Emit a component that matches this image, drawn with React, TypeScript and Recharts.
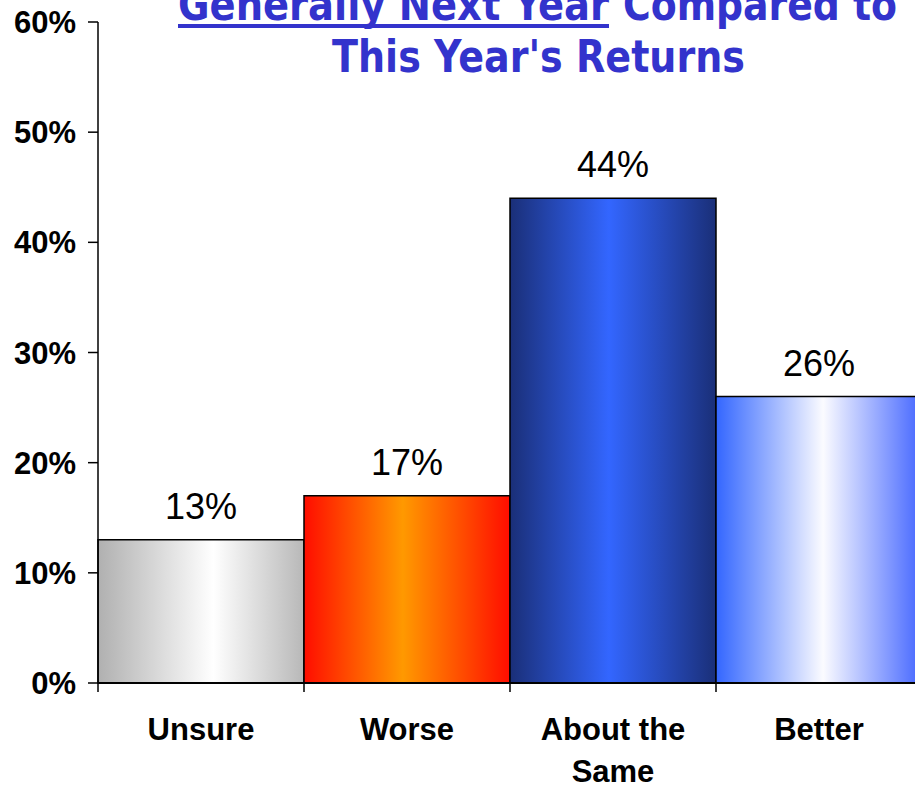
import React from 'react';
import { BarChart, Bar, XAxis, YAxis, Cell, LabelList } from 'recharts';

const categories = ['Unsure', 'Worse', 'About the Same', 'Better'];
const shares = [0.13, 0.17, 0.44, 0.26];
const yTicks = [0, 0.1, 0.2, 0.3, 0.4, 0.5, 0.6];
const categoryLines: string[][] = [['Unsure'], ['Worse'], ['About the', 'Same'], ['Better']];
const titleUnderlined = 'Generally Next Year';
const titleRest = 'Compared to';
const titleLine2 = "This Year's Returns";

const gradients: { id: string; stops: [string, string][] }[] = [
  { id: 'gUnsure', stops: [['0%', '#b0b0b0'], ['56%', '#ffffff'], ['100%', '#b8b8b8']] },
  { id: 'gWorse', stops: [['0%', '#ff0d00'], ['48%', '#ff9900'], ['100%', '#ff0d00']] },
  { id: 'gSame', stops: [['0%', '#1a2f78'], ['48%', '#3366ff'], ['100%', '#1a2f78']] },
  { id: 'gBetter', stops: [['0%', '#3366ff'], ['52%', '#fbfbff'], ['100%', '#4466ff']] },
];

const data = categories.map((c, i) => ({ category: c, value: shares[i] }));

const pct = (v: number) => `${Math.round(v * 100)}%`;

const CategoryTick = (props: any) => {
  const { x, y, index, visibleTicksCount, width, payload } = props;
  const band = width / visibleTicksCount;
  const lines = categoryLines[index] ?? [payload.value];
  return (
    <g>
      <line x1={x - band / 2} x2={x - band / 2} y1={y} y2={y + 9} stroke="#000" strokeWidth={1.5} />
      {index === visibleTicksCount - 1 && (
        <line x1={x + band / 2} x2={x + band / 2} y1={y} y2={y + 9} stroke="#000" strokeWidth={1.5} />
      )}
      <text
        x={x}
        y={y + 57}
        textAnchor="middle"
        fontFamily="'Liberation Sans', Arial, sans-serif"
        fontWeight="bold"
        fontSize={31}
        fill="#000"
      >
        {lines.map((l, k) => (
          <tspan key={k} x={x} dy={k === 0 ? 0 : 42}>
            {l}
          </tspan>
        ))}
      </text>
    </g>
  );
};

export default function App() {
  return (
    <div
      style={{
        position: 'fixed',
        top: 0,
        left: 0,
        width: 915,
        height: 785,
        overflow: 'hidden',
        background: '#fff',
      }}
    >
      <div style={{ position: 'absolute', top: -40, left: 0 }}>
        <BarChart
          width={930}
          height={830}
          data={data}
          margin={{ top: 62, right: 8, bottom: 7, left: 0 }}
          barCategoryGap={0}
        >
          <defs>
            {gradients.map((g) => (
              <linearGradient key={g.id} id={g.id} x1="0" y1="0" x2="1" y2="0">
                {g.stops.map(([o, c], k) => (
                  <stop key={k} offset={o} stopColor={c} />
                ))}
              </linearGradient>
            ))}
          </defs>
          <YAxis
            width={98}
            domain={[0, 0.6]}
            ticks={yTicks}
            interval={0}
            tickFormatter={pct}
            tickSize={10}
            tickMargin={12}
            axisLine={{ stroke: '#000', strokeWidth: 1.5 }}
            tickLine={{ stroke: '#000', strokeWidth: 1.5 }}
            tick={{
              fill: '#000',
              fontSize: 31,
              fontWeight: 'bold',
              fontFamily: "'Liberation Sans', Arial, sans-serif",
            }}
          />
          <XAxis
            dataKey="category"
            height={100}
            interval={0}
            tickSize={0}
            tickMargin={0}
            tickLine={false}
            axisLine={{ stroke: '#000', strokeWidth: 2 }}
            tick={<CategoryTick />}
          />
          <Bar dataKey="value" stroke="#000" strokeWidth={1.5} isAnimationActive={false}>
            {data.map((d, i) => (
              <Cell key={d.category} fill={`url(#${gradients[i].id})`} />
            ))}
            <LabelList
              dataKey="value"
              position="top"
              offset={21}
              formatter={(v: any) => pct(Number(v))}
              style={{
                fill: '#000',
                fontSize: 36,
                fontFamily: "'Liberation Sans', Arial, sans-serif",
              }}
            />
          </Bar>
        </BarChart>
      </div>
      <svg
        width={915}
        height={100}
        style={{ position: 'absolute', top: 0, left: 0, pointerEvents: 'none' }}
      >
        <g fill="#3333cc" fontFamily="'DejaVu Sans', Verdana, sans-serif" fontWeight="bold" fontSize={45}>
          <text x={178} y={20} textLength={431} lengthAdjust="spacingAndGlyphs">
            {titleUnderlined}
          </text>
          <rect x={178} y={24} width={431} height={4} />
          <text x={623} y={20} textLength={274} lengthAdjust="spacingAndGlyphs">
            {titleRest}
          </text>
          <text x={332} y={72} textLength={413} lengthAdjust="spacingAndGlyphs">
            {titleLine2}
          </text>
        </g>
      </svg>
    </div>
  );
}
